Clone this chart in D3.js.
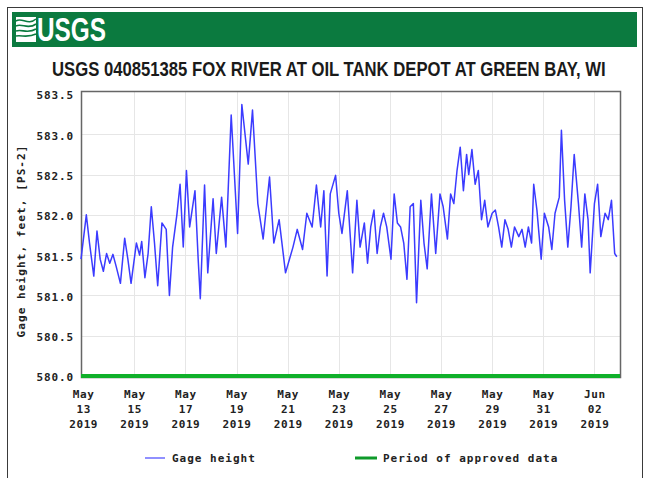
<!DOCTYPE html>
<html>
<head>
<meta charset="utf-8">
<script src="https://cdn.jsdelivr.net/npm/d3@7"></script>
<style>
  body { margin: 0; background: #fff; }
  svg { display: block; }
</style>
</head>
<body>
<svg id="chart" width="645" height="478"></svg>
<script>
// Station and series metadata
const stationTitle = "USGS 040851385 FOX RIVER AT OIL TANK DEPOT AT GREEN BAY, WI";
const yAxisTitle = "Gage height, feet, [PS-2]";
const legendLabels = ["Gage height", "Period of approved data"];

// Axis ticks
const yTicks = [580.0, 580.5, 581.0, 581.5, 582.0, 582.5, 583.0, 583.5];
const xTickDates = ["2019-05-13", "2019-05-15", "2019-05-17", "2019-05-19", "2019-05-21",
  "2019-05-23", "2019-05-25", "2019-05-27", "2019-05-29", "2019-05-31", "2019-06-02"];

// Time window of the graph and of the approved-data bar
const windowStart = "2019-05-12T22:00:00";
const windowEnd = "2019-06-03T00:00:00";
const approvedPeriod = ["2019-05-12T22:00:00", "2019-06-03T00:00:00"];

// Gage height readings: hours after windowStart, and level in feet
const readingHours = [
  0, 5, 8, 12, 15, 18, 21, 24, 27, 30, 33, 37, 41, 44, 47, 52, 55, 57, 60, 63,
  66, 69, 72, 76, 80, 83, 86, 90, 93, 96, 99, 102, 107, 110, 112, 116, 119, 124, 127, 132,
  136, 141, 147, 151, 157, 161, 166, 171, 177, 181, 186, 192, 199, 203, 208, 212, 217, 221, 225, 228,
  231, 234, 239, 242, 245, 250, 255, 259,
  262, 266, 269, 272, 275, 278, 281, 284, 287, 291, 294, 297, 300, 303, 306, 309, 312, 315, 319, 322,
  325, 329, 333, 337, 340, 344, 347, 350, 353, 356, 359, 362, 364, 367, 370, 373, 376, 379, 382, 386,
  389, 392, 395, 398, 401, 404, 407, 411, 414, 417, 420, 423, 425, 428, 432, 435, 439, 442, 445, 449,
  451, 454, 457, 460, 463, 467, 470, 473, 476, 478, 482, 485, 488, 492, 495, 498, 501, 503
];
const gageHeight = [
  581.45, 582.0, 581.65, 581.24, 581.8, 581.45, 581.3, 581.52, 581.4, 581.51,
  581.36, 581.15, 581.71, 581.45, 581.15, 581.65, 581.5, 581.67, 581.22, 581.52,
  582.1, 581.65, 581.12, 581.9, 581.82, 581.0, 581.6, 582.0, 582.38, 581.6,
  582.55, 581.85, 582.3, 581.45, 580.96, 582.37, 581.28, 582.2, 581.52, 582.22,
  581.6, 583.24, 581.77, 583.37, 582.63, 583.3, 582.14, 581.7, 582.47, 581.65,
  581.94, 581.28, 581.6, 581.82, 581.57, 582.02, 581.85, 582.37, 581.85, 582.3,
  581.24, 582.26, 582.49, 582.02, 581.77, 582.3, 581.28, 582.18,
  581.6, 581.9, 581.4, 581.85, 582.06, 581.52, 581.85, 582.02, 581.85, 581.45,
  582.26, 581.9, 581.85, 581.65, 581.2, 582.1, 582.14, 580.91, 582.18, 581.65,
  581.33, 582.26, 581.52, 582.26, 582.1, 581.7, 582.26, 582.14, 582.55, 582.84,
  582.3, 582.75, 582.5, 582.81, 582.38, 582.55, 581.94, 582.18, 581.85, 582.02,
  582.06, 581.85, 581.6, 581.94, 581.82, 581.6, 581.85, 581.73, 581.82, 581.6,
  581.85, 581.65, 582.38, 582.06, 581.45, 582.02, 581.85, 581.57, 582.02, 582.22,
  583.05, 582.18, 581.6, 582.1, 582.75, 582.14, 581.6, 582.26, 581.94, 581.28,
  582.14, 582.38, 581.73, 582.02, 581.94, 582.18, 581.52, 581.48
];

const parseTime = d3.timeParse("%Y-%m-%dT%H:%M:%S");
const parseDay = d3.timeParse("%Y-%m-%d");
const t0 = parseTime(windowStart);
const readings = readingHours.map((h, i) => ({
  time: d3.timeHour.offset(t0, h),
  value: gageHeight[i]
}));

const svg = d3.select("#chart");
const monoFont = "'DejaVu Sans Mono', 'Liberation Mono', monospace";
const narrowFont = "'Liberation Sans Narrow', 'Liberation Sans', Arial, sans-serif";
const plot = { left: 81, right: 620, top: 91, bottom: 377 };

// Fit a text element to a given width by scaling it horizontally
function fitWidth(sel, left, baseline, width) {
  const natural = sel.node().getComputedTextLength();
  sel.attr("x", 0).attr("y", 0)
    .attr("transform", `translate(${left},${baseline}) scale(${width / natural},1)`);
}

// Page frame
svg.append("rect")
  .attr("x", 7.5).attr("y", 7.5).attr("width", 635).attr("height", 480)
  .attr("fill", "#fff").attr("stroke", "#3a3a3a").attr("stroke-width", 1);

// Header banner with agency mark
const banner = svg.append("g");
banner.append("rect")
  .attr("x", 12).attr("y", 12).attr("width", 625).attr("height", 35)
  .attr("fill", "#0b7a3f");
const mark = banner.append("g").attr("transform", "translate(16,17)");
mark.append("rect").attr("width", 20).attr("height", 25).attr("fill", "#fff");
[4, 9, 14, 19].forEach((yy, i) => {
  mark.append("path")
    .attr("d", `M0,${yy} C6,${yy - 4 + i} 12,${yy + 5 - i} 20,${yy - 2}`)
    .attr("fill", "none").attr("stroke", "#0b7a3f").attr("stroke-width", 1.6);
});
const logo = banner.append("text")
  .attr("font-family", narrowFont)
  .attr("font-weight", "bold").attr("font-size", 33)
  .attr("fill", "#fff").text("USGS");
fitWidth(logo, 37, 41, 69);

// Title
const title = svg.append("text")
  .attr("font-family", narrowFont)
  .attr("font-weight", "bold").attr("font-size", 20)
  .attr("fill", "#1a1a1a").text(stationTitle);
fitWidth(title, 52, 76, 554);

// Scales
const x = d3.scaleTime()
  .domain([parseTime(windowStart), parseTime(windowEnd)])
  .range([plot.left, plot.right]);
const y = d3.scaleLinear()
  .domain([580, 583.5])
  .range([376, 94]);

// Grid
const grid = svg.append("g").attr("stroke", "#e6e6e6").attr("stroke-width", 1);
grid.selectAll("line.h").data(yTicks.slice(1, -1)).join("line")
  .attr("x1", plot.left).attr("x2", plot.right)
  .attr("y1", d => Math.round(y(d)) + 0.5).attr("y2", d => Math.round(y(d)) + 0.5);
grid.selectAll("line.v").data(xTickDates.slice(1)).join("line")
  .attr("x1", d => Math.round(x(parseDay(d))) + 0.5).attr("x2", d => Math.round(x(parseDay(d))) + 0.5)
  .attr("y1", plot.top).attr("y2", plot.bottom);

// Plot frame
svg.append("rect")
  .attr("x", plot.left + 0.5).attr("y", plot.top + 0.5)
  .attr("width", plot.right - plot.left).attr("height", plot.bottom - plot.top)
  .attr("fill", "none").attr("stroke", "#666").attr("stroke-width", 1.5);

// Y axis
const yAxis = d3.axisLeft(y).tickValues(yTicks).tickFormat(d3.format(".1f")).tickSize(0).tickPadding(7);
const gy = svg.append("g").attr("transform", `translate(${plot.left},0)`).call(yAxis);
gy.select(".domain").remove();
gy.selectAll("text")
  .attr("font-family", monoFont).attr("font-weight", "bold").attr("font-size", 11)
  .attr("letter-spacing", 0.9).attr("fill", "#222").attr("dy", "0.45em");

// X axis with three-line date labels
const xAxis = d3.axisBottom(x).tickValues(xTickDates.map(parseDay)).tickSize(0).tickFormat("");
const gx = svg.append("g").attr("transform", `translate(0,${plot.bottom})`).call(xAxis);
gx.select(".domain").remove();
const fmtMonth = d3.timeFormat("%b"), fmtDay = d3.timeFormat("%d"), fmtYear = d3.timeFormat("%Y");
gx.selectAll(".tick").each(function(d) {
  const t = d3.select(this).select("text")
    .attr("y", 0).attr("dy", null)
    .attr("font-family", monoFont).attr("font-weight", "bold").attr("font-size", 11)
    .attr("letter-spacing", 0.6).attr("fill", "#222").attr("text-anchor", "middle");
  [fmtMonth(d), fmtDay(d), fmtYear(d)].forEach((s, i) => {
    t.append("tspan").attr("x", 0).attr("y", 21 + i * 15).text(s);
  });
});

// Y axis title
svg.append("text")
  .attr("transform", "translate(25,241) rotate(-90)")
  .attr("text-anchor", "middle")
  .attr("font-family", monoFont).attr("font-weight", "bold").attr("font-size", 11)
  .attr("letter-spacing", 1.1).attr("fill", "#222")
  .text(yAxisTitle);

// Approved-data bar along the bottom of the plot
svg.append("line")
  .attr("x1", x(parseTime(approvedPeriod[0]))).attr("x2", x(parseTime(approvedPeriod[1])))
  .attr("y1", y(580)).attr("y2", y(580))
  .attr("stroke", "#10b02a").attr("stroke-width", 4);

// Gage height line
svg.append("path")
  .datum(readings)
  .attr("fill", "none")
  .attr("stroke", "#3b3bff")
  .attr("stroke-width", 1.5)
  .attr("stroke-linejoin", "round")
  .attr("d", d3.line().x(d => x(d.time)).y(d => y(d.value)));

// Legend
const legend = svg.append("g")
  .attr("font-family", monoFont).attr("font-weight", "bold").attr("font-size", 11)
  .attr("letter-spacing", 1).attr("fill", "#222");
legend.append("line").attr("x1", 145).attr("x2", 165).attr("y1", 458).attr("y2", 458)
  .attr("stroke", "#6b6bff").attr("stroke-width", 1.5);
legend.append("text").attr("x", 172).attr("y", 462).text(legendLabels[0]);
legend.append("line").attr("x1", 355).attr("x2", 377).attr("y1", 458).attr("y2", 458)
  .attr("stroke", "#0f9a2a").attr("stroke-width", 3);
legend.append("text").attr("x", 383).attr("y", 462).text(legendLabels[1]);
</script>
</body>
</html>
